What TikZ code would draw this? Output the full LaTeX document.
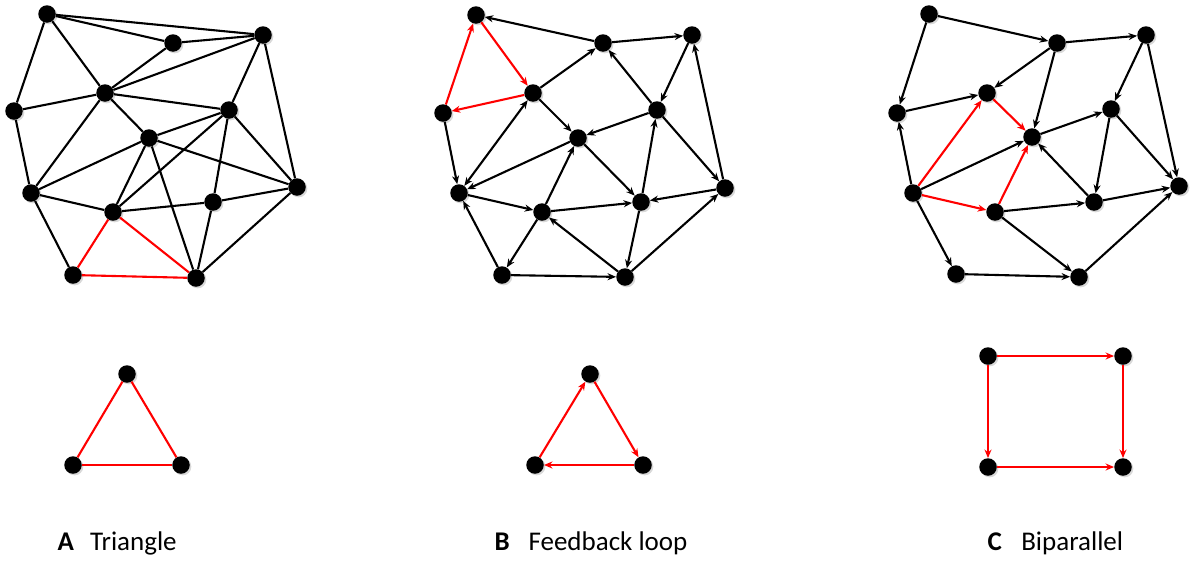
\documentclass[tikz,border=0pt]{standalone}
\usepackage{fontspec}
\setmainfont{Carlito}
\usetikzlibrary{arrows.meta,shadows}
\begin{document}
\begin{tikzpicture}[x=1pt,y=-1pt,
  dot/.style={circle,fill=black,inner sep=0pt,minimum size=17.5pt,
    drop shadow={shadow xshift=1.6pt,shadow yshift=-1.6pt,opacity=0.3,fill=gray}},
  edge/.style={line width=2.1pt,black},
  redge/.style={line width=2.1pt,red},
  arr/.style={-{Stealth[length=8.5pt,width=7pt]}},
  dbl/.style={{Stealth[length=8.5pt,width=7pt]}-{Stealth[length=8.5pt,width=7pt]}},
  lab/.style={anchor=base west,font=\fontsize{27}{32}\selectfont}]
\useasboundingbox (0,0) rectangle (1190,560);

% ---------- Network A ----------
\node[dot] (a1) at (47,14) {};
\node[dot] (a2) at (173,43) {};
\node[dot] (a3) at (263,35) {};
\node[dot] (a4) at (105,93) {};
\node[dot] (a5) at (14,111) {};
\node[dot] (a6) at (229,110) {};
\node[dot] (a7) at (149,138) {};
\node[dot] (a8) at (31,193) {};
\node[dot] (a9) at (113,212) {};
\node[dot] (a10) at (213,202) {};
\node[dot] (a11) at (297,187) {};
\node[dot] (a12) at (73,275) {};
\node[dot] (a13) at (196,278) {};
\foreach \u/\v in {a1/a3,a1/a2,a2/a3,a1/a5,a1/a4,a2/a4,a3/a4,a3/a6,a3/a11,
  a4/a5,a4/a6,a4/a7,a4/a8,a5/a8,a6/a7,a6/a9,a6/a10,a6/a11,a7/a8,a7/a9,
  a7/a13,a7/a11,a8/a9,a8/a12,a9/a10,a10/a11,a10/a13,a11/a13}
  \draw[edge] (\u) -- (\v);
\foreach \u/\v in {a9/a12,a9/a13,a12/a13}
  \draw[redge] (\u) -- (\v);

% ---------- Network B ----------
\node[dot] (b1) at (476,15) {};
\node[dot] (b2) at (603,43) {};
\node[dot] (b3) at (692,35) {};
\node[dot] (b4) at (533,93) {};
\node[dot] (b5) at (443,113) {};
\node[dot] (b6) at (657,110) {};
\node[dot] (b7) at (578,138) {};
\node[dot] (b8) at (459,193) {};
\node[dot] (b9) at (542,212) {};
\node[dot] (b10) at (641,202) {};
\node[dot] (b11) at (725,188) {};
\node[dot] (b12) at (502,275) {};
\node[dot] (b13) at (625,277) {};
\foreach \u/\v in {b2/b1,b2/b3,b4/b2,b4/b7,b5/b8,b6/b2,b3/b6,b6/b7,b6/b11,
  b11/b3,b7/b8,b7/b10,b9/b7,b8/b9,b9/b10,b11/b10,b10/b6,b9/b12,b12/b8,
  b12/b13,b13/b9,b10/b13,b13/b11}
  \draw[edge,arr] (\u) -- (\v);
\draw[edge,dbl] (b8) -- (b4);
\foreach \u/\v in {b1/b4,b4/b5,b5/b1}
  \draw[redge,arr] (\u) -- (\v);

% ---------- Network C ----------
\node[dot] (c1) at (929,14) {};
\node[dot] (c2) at (1057,43) {};
\node[dot] (c3) at (1146,35) {};
\node[dot] (c4) at (987,93) {};
\node[dot] (c5) at (897,113) {};
\node[dot] (c6) at (1111,109) {};
\node[dot] (c7) at (1032,137) {};
\node[dot] (c8) at (913,193) {};
\node[dot] (c9) at (995,212) {};
\node[dot] (c10) at (1094,202) {};
\node[dot] (c11) at (1179,186) {};
\node[dot] (c12) at (956,274) {};
\node[dot] (c13) at (1079,277) {};
\foreach \u/\v in {c1/c2,c1/c5,c2/c3,c2/c4,c2/c7,c3/c6,c3/c11,c5/c4,c8/c5,
  c8/c7,c7/c6,c10/c7,c6/c10,c6/c11,c9/c10,c10/c11,c9/c13,c8/c12,c12/c13,c13/c11}
  \draw[edge,arr] (\u) -- (\v);
\foreach \u/\v in {c8/c4,c4/c7,c8/c9,c9/c7}
  \draw[redge,arr] (\u) -- (\v);

% ---------- Motifs ----------
\node[dot] (ta) at (127,374) {};
\node[dot] (tb) at (73,465) {};
\node[dot] (tc) at (181,465) {};
\draw[redge] (ta) -- (tb);
\draw[redge] (ta) -- (tc);
\draw[redge] (tb) -- (tc);

\node[dot] (fa) at (590,374) {};
\node[dot] (fb) at (535,465) {};
\node[dot] (fc) at (643,465) {};
\draw[redge,arr] (fb) -- (fa);
\draw[redge,arr] (fa) -- (fc);
\draw[redge,arr] (fc) -- (fb);

\node[dot] (q1) at (988,356) {};
\node[dot] (q2) at (1123,356) {};
\node[dot] (q3) at (988,467) {};
\node[dot] (q4) at (1123,467) {};
\draw[redge,arr] (q1) -- (q2);
\draw[redge,arr] (q1) -- (q3);
\draw[redge,arr] (q2) -- (q4);
\draw[redge,arr] (q3) -- (q4);

% ---------- Labels ----------
\node[lab] (la) at (54,550) {\textbf{A}\hspace{0.6em}Triangle};
\node[lab] (lb) at (491,550) {\textbf{B}\hspace{0.7em}Feedback loop};
\node[lab] (lc) at (984,550) {\textbf{C}\hspace{0.72em}Biparallel};
\end{tikzpicture}
\end{document}
